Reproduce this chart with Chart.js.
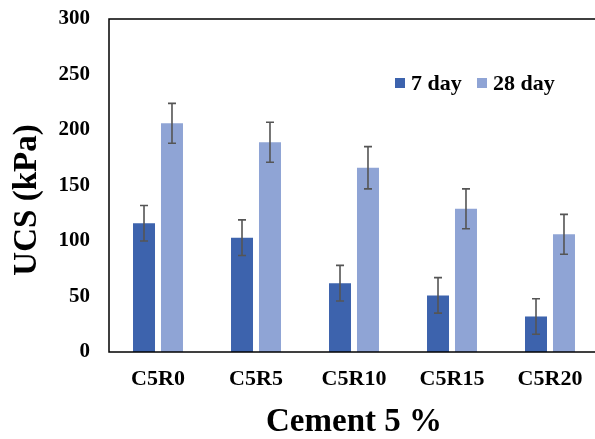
<!DOCTYPE html>
<html>
<head>
<meta charset="utf-8">
<script src="https://cdn.jsdelivr.net/npm/chart.js@4"></script>
<style>
    html, body { margin: 0; padding: 0; background: #fff; overflow: hidden; }
    #wrap { width: 610px; height: 439px; }
</style>
</head>
<body>
<div id="wrap"><canvas id="ucs" width="610" height="439"></canvas></div>
<script>
var categories = ["C5R0", "C5R5", "C5R10", "C5R15", "C5R20"];
var day7 = [116, 103, 62, 51, 32];
var day28 = [206, 189, 166, 129, 106];
var err7 = [16, 16, 16, 16, 16];
var err28 = [18, 18, 19, 18, 18];
var seriesNames = ["7 day", "28 day"];

var serif = "'Liberation Serif', 'Times New Roman', serif";
var dark = "#3d63ad";
var light = "#8fa4d5";

// error bars, frame, y title and legend
var extras = {
    id: "extras",
    afterDatasetsDraw: function (chart) {
        var c = chart.ctx;
        var y = chart.scales.y;
        var errs = [err7, err28];
        c.save();
        c.strokeStyle = "#555555";
        c.lineWidth = 1.6;
        chart.data.datasets.forEach(function (ds, i) {
            var meta = chart.getDatasetMeta(i);
            meta.data.forEach(function (bar, j) {
                var v = ds.data[j];
                var top = y.getPixelForValue(v + errs[i][j]);
                var bot = y.getPixelForValue(v - errs[i][j]);
                c.beginPath();
                c.moveTo(bar.x, top);
                c.lineTo(bar.x, bot);
                c.moveTo(bar.x - 4, top);
                c.lineTo(bar.x + 4, top);
                c.moveTo(bar.x - 4, bot);
                c.lineTo(bar.x + 4, bot);
                c.stroke();
            });
        });
        c.restore();
    },
    afterDraw: function (chart) {
        var c = chart.ctx;
        var a = chart.chartArea;
        c.save();
        c.strokeStyle = "#000";
        c.lineWidth = 1.5;
        c.strokeRect(a.left, a.top, a.right - a.left, a.bottom - a.top);

        // y axis title
        c.translate(27, 200);
        c.rotate(-Math.PI / 2);
        c.fillStyle = "#000";
        c.font = "bold 33px " + serif;
        c.textAlign = "center";
        c.textBaseline = "middle";
        c.fillText("UCS (kPa)", 0, 0);
        c.restore();

        // legend
        c.save();
        c.font = "bold 22px " + serif;
        c.textBaseline = "middle";
        c.fillStyle = dark;
        c.fillRect(395, 78, 10, 10);
        c.fillStyle = light;
        c.fillRect(477, 78, 10, 10);
        c.fillStyle = "#000";
        c.fillText(seriesNames[0], 411, 84);
        c.fillText(seriesNames[1], 493, 84);
        c.restore();
    }
};

var ctx = document.getElementById("ucs");
var chartUcs = new Chart(ctx, {
    type: "bar",
    data: {
        labels: categories,
        datasets: [
            {
                label: seriesNames[0],
                data: day7,
                backgroundColor: dark,
                categoryPercentage: 0.571,
                barPercentage: 0.786,
            },
            {
                label: seriesNames[1],
                data: day28,
                backgroundColor: light,
                categoryPercentage: 0.571,
                barPercentage: 0.786,
            },
        ],
    },
    plugins: [extras],
    options: {
        responsive: false,
        animation: false,
        layout: {
            padding: { left: 0, right: 11, top: 19, bottom: 0 },
        },
        plugins: {
            legend: { display: false },
            tooltip: { enabled: false },
        },
        scales: {
            x: {
                grid: { display: false, drawTicks: false },
                border: { display: false },
                ticks: {
                    color: "#000",
                    padding: 14,
                    font: { family: serif, size: 22, weight: "bold" },
                },
                title: {
                    display: true,
                    text: "Cement 5 %",
                    color: "#000",
                    padding: { top: 0, bottom: 0 },
                    font: { family: serif, size: 33, weight: "bold", lineHeight: 1.0 },
                },
                afterFit: function (scale) {
                    scale.height = 87;
                    scale.paddingLeft = 0;
                    scale.paddingRight = 0;
                },
            },
            y: {
                min: 0,
                max: 300,
                grid: { display: false, drawTicks: false },
                border: { display: false },
                ticks: {
                    stepSize: 50,
                    color: "#000",
                    padding: 19,
                    font: { family: serif, size: 21, weight: "bold" },
                },
                afterFit: function (scale) {
                    scale.width = 109;
                    scale.paddingTop = 0;
                    scale.paddingBottom = 0;
                },
            },
        },
    },
});
</script>
</body>
</html>
